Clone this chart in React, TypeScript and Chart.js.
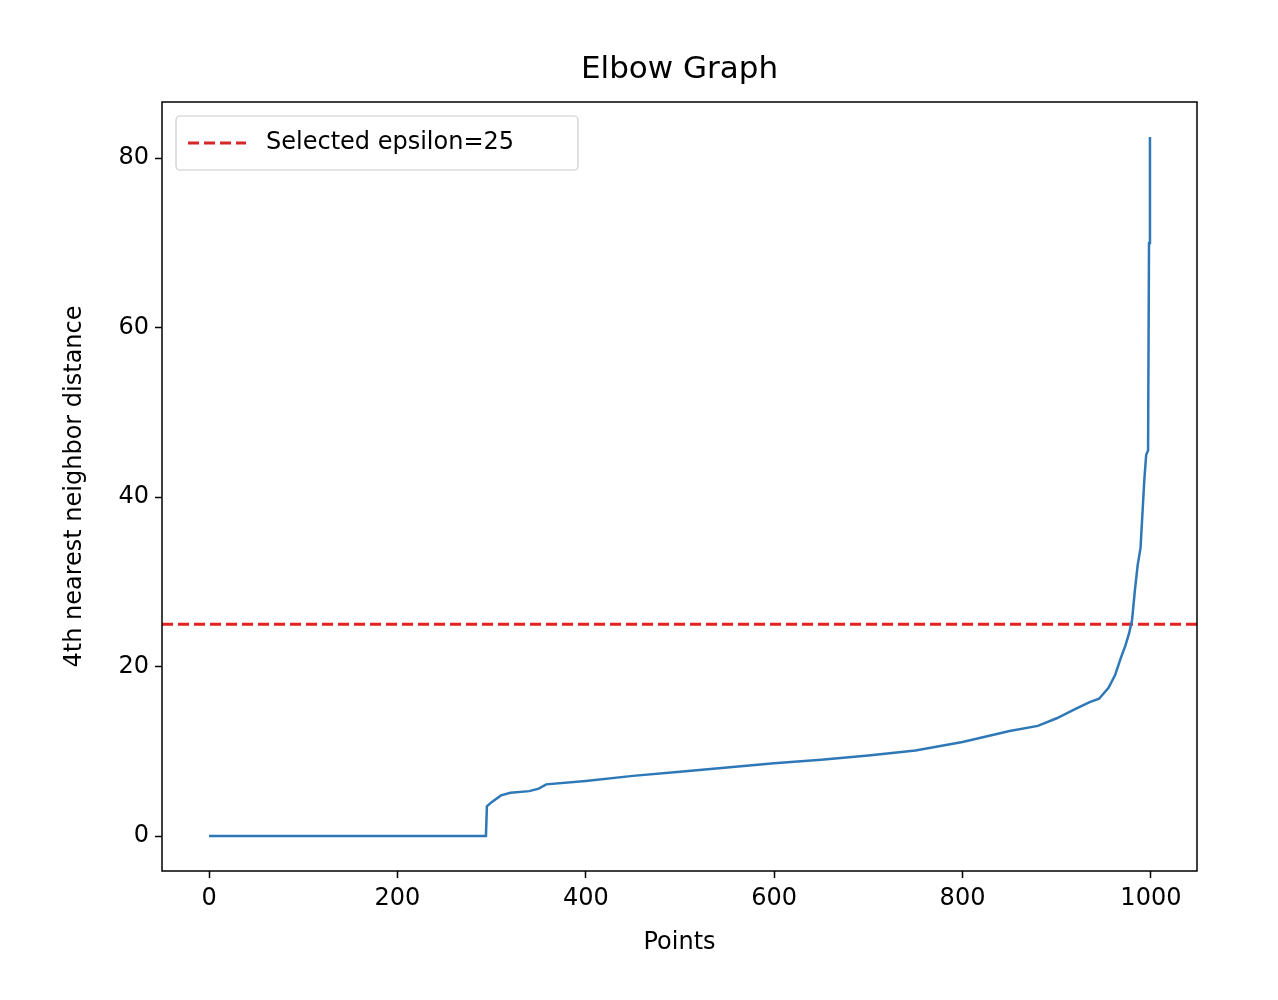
import { useEffect, useRef } from "react";
import { Chart, registerables } from "chart.js";

Chart.register(...registerables);

const pointsX = [0, 100, 200, 294, 295, 300, 310, 320, 340, 350, 358, 400, 450, 500, 550, 600, 650, 700, 750, 800, 850, 880, 900, 920, 935, 945, 955, 962, 968, 973, 977, 980, 983, 986, 989, 991, 993, 995, 997, 998, 999];
const pointsY = [0, 0, 0, 0, 3.5, 4, 4.8, 5.1, 5.3, 5.6, 6.1, 6.5, 7.1, 7.6, 8.1, 8.6, 9.0, 9.5, 10.1, 11.1, 12.4, 13.0, 13.9, 15.0, 15.8, 16.2, 17.5, 19, 21, 22.5, 24, 25.5, 29, 32, 34, 38, 42, 45, 45.5, 70, 82.5];
const xTicks = [0, 200, 400, 600, 800, 1000];
const yTicks = [0, 20, 40, 60, 80];
const epsilon = 25;
const xRange = [-49.95, 1048.95];
const yRange = [-4.125, 86.625];

const FONT = "DejaVu Sans";

const decor = {
  id: "decor",
  afterDraw(chart: Chart) {
    const { ctx, chartArea: a } = chart;
    ctx.save();
    ctx.strokeStyle = "#000";
    ctx.lineWidth = 1.5;
    ctx.strokeRect(a.left, a.top, a.right - a.left, a.bottom - a.top);
    ctx.fillStyle = "#000";
    ctx.textAlign = "center";
    ctx.textBaseline = "middle";
    ctx.font = `31px ${FONT}`;
    ctx.fillText("Elbow Graph", (a.left + a.right) / 2, 70);
    ctx.font = `24px ${FONT}`;
    ctx.fillText("Points", (a.left + a.right) / 2, 943);
    ctx.translate(75, (a.top + a.bottom) / 2);
    ctx.rotate(-Math.PI / 2);
    ctx.fillText("4th nearest neighbor distance", 0, 0);
    ctx.restore();
    // legend
    ctx.save();
    const lx = a.left + 14, ly = a.top + 14, lw = 402, lh = 54;
    ctx.fillStyle = "rgba(255,255,255,0.8)";
    ctx.strokeStyle = "#ccc";
    ctx.lineWidth = 1.2;
    ctx.beginPath();
    ctx.roundRect(lx, ly, lw, lh, 4);
    ctx.fill();
    ctx.stroke();
    ctx.strokeStyle = "#d62728";
    ctx.lineWidth = 3;
    ctx.setLineDash([11, 5]);
    ctx.beginPath();
    ctx.moveTo(lx + 12, ly + lh / 2);
    ctx.lineTo(lx + 70, ly + lh / 2);
    ctx.stroke();
    ctx.setLineDash([]);
    ctx.fillStyle = "#000";
    ctx.font = `24px ${FONT}`;
    ctx.textBaseline = "middle";
    ctx.fillText(`Selected epsilon=${epsilon}`, lx + 90, ly + lh / 2);
    ctx.restore();
  },
};

export default function App() {
  const ref = useRef<HTMLCanvasElement | null>(null);

  useEffect(() => {
    if (!ref.current) return;
    const tickFont = { family: FONT, size: 24 };
    const chart = new Chart(ref.current, {
      type: "scatter",
      data: {
        datasets: [
          {
            data: pointsX.map((x, i) => ({ x, y: pointsY[i] })),
            showLine: true,
            borderColor: "#2f78b8",
            borderWidth: 2.5,
            pointRadius: 0,
          },
          {
            data: xRange.map((x) => ({ x, y: epsilon })),
            showLine: true,
            borderColor: "#e4221f",
            borderWidth: 3,
            borderDash: [11, 5],
            pointRadius: 0,
          },
        ],
      },
      options: {
        animation: false,
        responsive: false,
        layout: { padding: { top: 102, right: 81, left: 0, bottom: 0 } },
        plugins: { legend: { display: false }, tooltip: { enabled: false } },
        scales: {
          x: {
            type: "linear",
            min: xRange[0],
            max: xRange[1],
            afterBuildTicks: (s) => { s.ticks = xTicks.map((v) => ({ value: v })); },
            afterFit: (s) => { s.height = 129; },
            grid: { drawOnChartArea: false, color: "#000", tickLength: 7, tickWidth: 1.5 },
            border: { display: false },
            ticks: { color: "#000", font: tickFont, padding: 6, callback: (v) => String(v) },
          },
          y: {
            type: "linear",
            min: yRange[0],
            max: yRange[1],
            afterBuildTicks: (s) => { s.ticks = yTicks.map((v) => ({ value: v })); },
            afterFit: (s) => { s.width = 162; },
            grid: { drawOnChartArea: false, color: "#000", tickLength: 7, tickWidth: 1.5 },
            border: { display: false },
            ticks: { color: "#000", font: tickFont, padding: 6, callback: (v) => String(v) },
          },
        },
      },
      plugins: [decor],
    });
    return () => chart.destroy();
  }, []);

  return (
    <div style={{ position: "fixed", left: 0, top: 0, background: "#fff" }}>
      <canvas ref={ref} width={1278} height={1000} style={{ width: 1278, height: 1000 }} />
    </div>
  );
}
